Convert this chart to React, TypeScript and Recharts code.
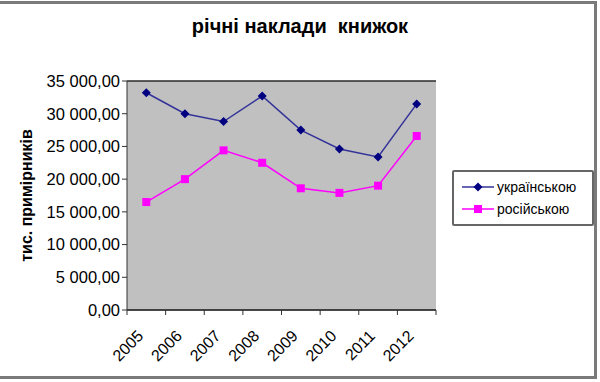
import { CartesianGrid, Legend, Line, LineChart, XAxis, YAxis } from "recharts"

const years = ['2005', '2006', '2007', '2008', '2009', '2010', '2011', '2012']
const ukrainian = [33200, 30000, 28800, 32700, 27500, 24600, 23400, 31500]
const russian = [16500, 20000, 24400, 22500, 18600, 17900, 19000, 26600]
const yTicks = [0, 5000, 10000, 15000, 20000, 25000, 30000, 35000]

const series = [
  { key: 'ukr', name: 'українською', values: ukrainian, color: '#333399', dot: '#000080', shape: 'diamond' },
  { key: 'rus', name: 'російською', values: russian, color: '#ff00ff', dot: '#ff00ff', shape: 'square' }
]

const data = years.map((year, i) => ({ year, ukr: ukrainian[i], rus: russian[i] }))

const FONT = 'Arial, "Liberation Sans", sans-serif'
const HALF_BAND = 19.3

const formatNum = (v: number) => {
  const s = v.toFixed(2).replace('.', ',')
  const [int, dec] = s.split(',')
  return int.replace(/\B(?=(\d{3})+(?!\d))/g, ' ') + ',' + dec
}

const Marker = ({ cx, cy, shape, fill }: any) => {
  if (cx == null || cy == null) return null
  if (shape === 'diamond') {
    const r = 4.5
    return <path d={`M${cx},${cy - r}L${cx + r},${cy}L${cx},${cy + r}L${cx - r},${cy}Z`} fill={fill} />
  }
  return <rect x={cx - 4} y={cy - 4} width={8} height={8} fill={fill} />
}

const XTick = ({ x, y, payload, index, visibleTicksCount }: any) => (
  <g>
    <line x1={x - HALF_BAND} x2={x - HALF_BAND} y1={y} y2={y + 5} stroke='#333' />
    {index === visibleTicksCount - 1 && (
      <line x1={x + HALF_BAND} x2={x + HALF_BAND} y1={y} y2={y + 5} stroke='#333' />
    )}
    <text
      x={x - 2}
      y={y + 27}
      textAnchor='end'
      transform={`rotate(-45, ${x - 2}, ${y + 27})`}
      style={{ fontFamily: FONT, fontSize: '16px' }}
      fill='#000'
    >
      {payload.value}
    </text>
  </g>
)

const renderLegend = () => (
  <div
    style={{
      border: '2px solid #666',
      borderRadius: 2,
      background: '#fff',
      padding: '4px 0 4px 8px',
      boxSizing: 'border-box',
      width: 142
    }}
  >
    {series.map((s) => (
      <div key={s.key} style={{ display: 'flex', alignItems: 'center', height: 22 }}>
        <svg width={32} height={12}>
          <line x1={0} x2={32} y1={6} y2={6} stroke={s.color} strokeWidth={1.5} />
          <Marker cx={16} cy={6} shape={s.shape} fill={s.dot} />
        </svg>
        <span style={{ fontFamily: FONT, fontSize: '14px', color: '#000', marginLeft: 3 }}>{s.name}</span>
      </div>
    ))}
  </div>
)

const Chart = () => {
  return (
    <div style={{ position: 'relative', width: 600, height: 382, background: '#fff' }}>
      <style>{'body { margin: 0; }'}</style>
      <div
        style={{
          position: 'absolute',
          left: 0,
          top: 1,
          width: 597,
          height: 378,
          borderTop: '3px solid #7a7a7a',
          borderRight: '3px solid #7a7a7a',
          borderBottom: '3px solid #7a7a7a',
          boxSizing: 'border-box',
          pointerEvents: 'none'
        }}
      />
      <div
        style={{
          position: 'absolute',
          top: 15,
          left: 0,
          width: 600,
          textAlign: 'center',
          fontFamily: FONT,
          fontWeight: 'bold',
          fontSize: '20px',
          whiteSpace: 'pre',
          color: '#000'
        }}
      >
        {'річні наклади  книжок'}
      </div>
      <LineChart
        width={600}
        height={382}
        data={data}
        margin={{ top: 81, right: 164, bottom: 0, left: 0 }}
      >
        <CartesianGrid vertical={false} fill='#c0c0c0' stroke='#2a2a2a' strokeWidth={1.5} />
        <XAxis
          dataKey='year'
          height={72}
          padding={{ left: HALF_BAND, right: HALF_BAND }}
          tickLine={false}
          tickSize={0}
          tickMargin={0}
          axisLine={{ stroke: '#333' }}
          tick={<XTick />}
          interval={0}
        />
        <YAxis
          yAxisId='left'
          width={127}
          domain={[0, 35000]}
          ticks={yTicks}
          tickFormatter={formatNum}
          tickLine={{ stroke: '#333' }}
          tickSize={5}
          axisLine={{ stroke: '#333' }}
          tick={{ fill: '#000', fontFamily: FONT, fontSize: 16.5 }}
          label={{
            value: 'тис. примірників',
            angle: -90,
            position: 'insideLeft',
            offset: 26,
            style: { textAnchor: 'middle', fontFamily: FONT, fontWeight: 'bold', fontSize: 16, fill: '#000' }
          }}
        />
        <YAxis
          yAxisId='right'
          orientation='right'
          width={0}
          domain={[0, 35000]}
          tick={false}
          tickLine={false}
          axisLine={{ stroke: '#999' }}
        />
        {series.map((s) => (
          <Line
            key={s.key}
            yAxisId='left'
            dataKey={s.key}
            name={s.name}
            stroke={s.color}
            strokeWidth={1.5}
            isAnimationActive={false}
            dot={(p: any) => <Marker key={`${s.key}-${p.index}`} cx={p.cx} cy={p.cy} shape={s.shape} fill={s.dot} />}
            activeDot={false}
          />
        ))}
        <Legend
          layout='horizontal'
          verticalAlign='middle'
          align='center'
          content={renderLegend}
          wrapperStyle={{ left: 452, top: 170, width: 142 }}
        />
      </LineChart>
    </div>
  )
}

export default Chart
